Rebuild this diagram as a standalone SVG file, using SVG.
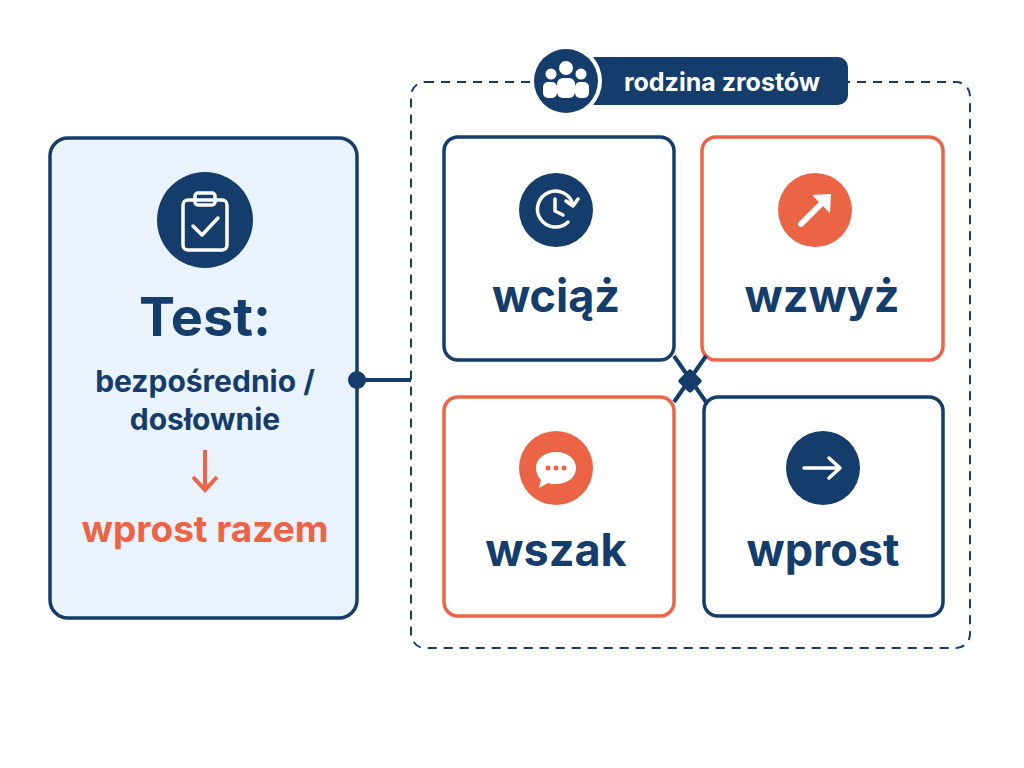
<svg xmlns="http://www.w3.org/2000/svg" width="1024" height="768" viewBox="0 0 1024 768">
<style>
text{font-family:Inter,"Noto Sans",sans-serif;font-weight:700;text-anchor:middle}
.n{fill:#fff;stroke:#143d6b;stroke-width:3.5}
.o{fill:#fff;stroke:#ec6446;stroke-width:3.5}
.w{fill:#143d6b;font-size:45px}
.ic{fill:none;stroke:#fff;stroke-width:3.5;stroke-linecap:round;stroke-linejoin:round}
</style>
<rect width="1024" height="768" fill="#fff"/>
<g id="container"><rect x="411" y="82" width="559" height="566" rx="14" fill="none" stroke="#143d6b" stroke-width="2" stroke-dasharray="9 7"/></g>
<g id="label">
<rect x="585" y="57" width="263" height="48" rx="10" fill="#143d6b"/>
<circle cx="566" cy="81" r="36" fill="#fff"/>
<circle cx="566" cy="81" r="32" fill="#143d6b"/>
<g fill="#fff"><circle cx="566" cy="68" r="7"/><circle cx="551" cy="74" r="5.5"/><circle cx="581" cy="74" r="5.5"/>
<rect x="557" y="78" width="18" height="20" rx="6"/><rect x="543" y="82" width="14" height="16" rx="5"/><rect x="575" y="82" width="14" height="16" rx="5"/></g>
<text x="722" y="91" fill="#fff" font-size="25">rodzina zrostów</text>
</g>
<g id="test">
<rect x="50" y="138" width="307" height="480" rx="18" fill="#eaf2fc" stroke="#143d6b" stroke-width="3.5"/>
<circle cx="205" cy="220" r="48" fill="#143d6b"/>
<rect x="183" y="200" width="44" height="50" rx="5" class="ic"/>
<rect x="195" y="193" width="20" height="12" rx="3" class="ic" fill="#143d6b"/>
<polyline points="193,226 202,235 218,218" class="ic"/>
<text x="205" y="336" fill="#143d6b" font-size="54">Test:</text>
<text x="205" y="392" fill="#143d6b" font-size="30" font-weight="600">bezpośrednio /</text>
<text x="205" y="430" fill="#143d6b" font-size="30" font-weight="600">dosłownie</text>
<line x1="205" y1="450" x2="205" y2="488" stroke="#ec6446" stroke-width="4"/>
<polyline points="193,477 205,490 217,477" fill="none" stroke="#ec6446" stroke-width="4"/>
<text x="205" y="542" fill="#ec6446" font-size="37" font-weight="600">wprost razem</text>
</g>
<g id="wciaz">
<rect x="444" y="137" width="230" height="223" rx="14" class="n"/>
<circle cx="556" cy="210" r="37" fill="#143d6b"/>
<path d="M568 222 A18 18 0 1 1 573 205" class="ic"/>
<polyline points="566,201 573,206 578,199" class="ic"/>
<polyline points="555,199 555,211 563,215" class="ic"/>
<text x="556" y="312" class="w">wciąż</text>
</g>
<g id="wzwyz">
<rect x="702" y="137" width="241" height="223" rx="14" class="o"/>
<circle cx="815" cy="210" r="37" fill="#ec6446"/>
<line x1="801" y1="224" x2="827" y2="198" stroke="#fff" stroke-width="6" stroke-linecap="round"/>
<polygon points="831,194 830,213 812,195" fill="#fff"/>
<text x="822" y="312" class="w">wzwyż</text>
</g>
<g id="wszak">
<rect x="444" y="397" width="230" height="219" rx="14" class="o"/>
<circle cx="556" cy="468" r="37" fill="#ec6446"/>
<path d="M556 452 c12 0 20 7 20 16 c0 9-8 16-20 16 c-3 0-6 0-8-1 l-9 5 l2-8 c-3-3-5-7-5-12 c0-9 8-16 20-16z" fill="#fff"/>
<circle cx="548" cy="468" r="2.5" fill="#ec6446"/><circle cx="556" cy="468" r="2.5" fill="#ec6446"/><circle cx="564" cy="468" r="2.5" fill="#ec6446"/>
<text x="556" y="566" class="w">wszak</text>
</g>
<g id="wprost">
<rect x="704" y="397" width="239" height="219" rx="14" class="n"/>
<circle cx="823" cy="468" r="37" fill="#143d6b"/>
<line x1="804" y1="468" x2="839" y2="468" class="ic"/>
<polyline points="829,458 840,468 829,478" class="ic"/>
<text x="823" y="566" class="w">wprost</text>
</g>
<g id="connectors" stroke="#143d6b" stroke-width="4" fill="none">
<line x1="357" y1="380" x2="411" y2="380"/>
<circle cx="357" cy="380" r="9" fill="#143d6b" stroke="none"/>
<line x1="674" y1="356" x2="706" y2="402"/>
<line x1="706" y1="356" x2="674" y2="402"/>
<rect x="681" y="372" width="18" height="18" rx="3" transform="rotate(45 690 381)" fill="#143d6b" stroke="none"/>
</g>
</svg>
